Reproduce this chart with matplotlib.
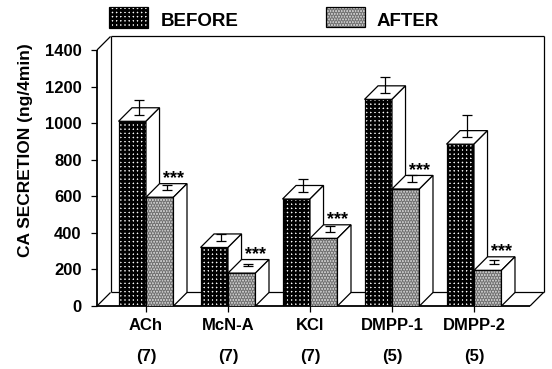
import matplotlib
matplotlib.use('Agg')
import matplotlib.pyplot as plt
from matplotlib.patches import Rectangle, Polygon
from matplotlib.transforms import blended_transform_factory

# ---- data ----
categories = ['ACh', 'McN-A', 'KCl', 'DMPP-1', 'DMPP-2']
n_values = [7, 7, 7, 5, 5]
before = [1010, 320, 585, 1130, 885]
after = [595, 180, 370, 640, 195]
before_err = [80, 35, 75, 85, 120]
after_err = [30, 15, 28, 37, 22]
y_ticks = [0, 200, 400, 600, 800, 1000, 1200, 1400]
legend_labels = ['BEFORE', 'AFTER']
sig_label = '***'
y_label = 'CA SECRETION (ng/4min)'

plt.rcParams['font.family'] = ['Liberation Sans', 'DejaVu Sans']
plt.rcParams['font.weight'] = 'bold'
plt.rcParams['hatch.linewidth'] = 1.9

W, H = 552, 369
fig = plt.figure(figsize=(W / 100, H / 100), dpi=100)
ax = fig.add_axes([97 / W, 63 / H, 448 / W, 270 / H])
ax.set_xlim(-0.5976, 4.866)
ax.set_ylim(0, 1476.5)
for s in ax.spines.values():
    s.set_visible(False)

DX = 0.165   # depth offset in x data units
DY = 74      # depth offset in y data units
BW = 0.335   # bar width
xL = -0.5976
xR = 4.683
TOP = y_ticks[-1]

lk = dict(color='black', lw=0.9, clip_on=False, zorder=1, solid_capstyle='butt')
ax.plot([xL, xL], [0, TOP], **dict(lk, lw=1.3))
ax.plot([xL, xL + DX], [TOP, TOP + DY], **lk)
ax.plot([xL + DX, xL + DX], [DY, TOP + DY], **lk)
ax.plot([xL + DX, xR + DX], [TOP + DY, TOP + DY], **lk)
ax.plot([xR + DX, xR + DX], [TOP + DY, DY], **lk)
ax.plot([xL + DX, xR + DX], [DY, DY], **lk)
ax.plot([xL, xR], [0, 0], **dict(lk, lw=1.3))
ax.plot([xL, xL + DX], [0, DY], **lk)
ax.plot([xR, xR + DX], [0, DY], **lk)

BEFORE_STYLE = dict(facecolor='white', edgecolor='black', hatch='++++', lw=0.9)
AFTER_FILL = dict(facecolor='#d8d8d8', edgecolor='#707070', hatch='......', lw=0)


def bar3d(x0, v, err, kind, z):
    if kind == 'before':
        ax.add_patch(Rectangle((x0, 0), BW, v, zorder=z, **BEFORE_STYLE))
    else:
        ax.add_patch(Rectangle((x0, 0), BW, v, zorder=z, **AFTER_FILL))
        ax.add_patch(Rectangle((x0, 0), BW, v, facecolor='none',
                               edgecolor='black', lw=0.9, zorder=z + 0.01))
    ax.add_patch(Polygon([(x0, v), (x0 + BW, v), (x0 + BW + DX, v + DY),
                          (x0 + DX, v + DY)], closed=True, facecolor='white',
                         edgecolor='black', lw=0.9, zorder=z + 0.02))
    ax.add_patch(Polygon([(x0 + BW, 0), (x0 + BW + DX, DY),
                          (x0 + BW + DX, v + DY), (x0 + BW, v)], closed=True,
                         facecolor='white', edgecolor='black', lw=0.9,
                         zorder=z + 0.02))
    xc = x0 + BW / 2 + DX / 2
    yb = v + DY / 2
    ax.errorbar([xc], [yb], yerr=[[0], [err]], fmt='none', ecolor='black',
                elinewidth=0.9, capsize=3.6, capthick=0.9, zorder=z + 0.03)


for i in range(len(categories)):
    z = 2 + i
    bar3d(i - BW, before[i], before_err[i], 'before', z)
    bar3d(i, after[i], after_err[i], 'after', z + 0.5)
    ax.text(i + BW / 2 + DX, after[i] + 100, sig_label, ha='center',
            va='center', fontsize=13, fontweight='bold', zorder=10)

ax.set_yticks(y_ticks)
ax.set_yticklabels([str(t) for t in y_ticks])
ax.tick_params(axis='y', direction='out', length=4, width=0.9, pad=7,
               labelsize=12)
ax.set_xticks(range(len(categories)))
ax.set_xticklabels(categories)
ax.tick_params(axis='x', direction='out', length=4, width=0.9, pad=5,
               labelsize=12)
for lab in ax.get_xticklabels() + ax.get_yticklabels():
    lab.set_fontweight('bold')

tr = blended_transform_factory(ax.transData, fig.transFigure)
for i, n in enumerate(n_values):
    ax.text(i, (H - 357) / H, f'({n})', transform=tr, ha='center',
            va='center', fontsize=12, fontweight='bold')

fig.text(26 / W, (H - 150) / H, y_label, rotation=90, ha='center',
         va='center', fontsize=12.5, fontweight='bold')

# legend
ft = fig.transFigure
fig.patches.append(Rectangle((109 / W, (H - 28) / H), 39 / W, 21 / H,
                             transform=ft, **BEFORE_STYLE))
fig.patches.append(Rectangle((326 / W, (H - 27) / H), 39 / W, 20 / H,
                             transform=ft, **AFTER_FILL))
fig.patches.append(Rectangle((326 / W, (H - 27) / H), 39 / W, 20 / H,
                             transform=ft, facecolor='none',
                             edgecolor='black', lw=0.9))
fig.text(161 / W, (H - 21.5) / H, legend_labels[0], ha='left', va='center',
         fontsize=13.5, fontweight='bold')
fig.text(377 / W, (H - 21.5) / H, legend_labels[1], ha='left', va='center',
         fontsize=13.5, fontweight='bold')

fig.savefig('out.png', dpi=100)
